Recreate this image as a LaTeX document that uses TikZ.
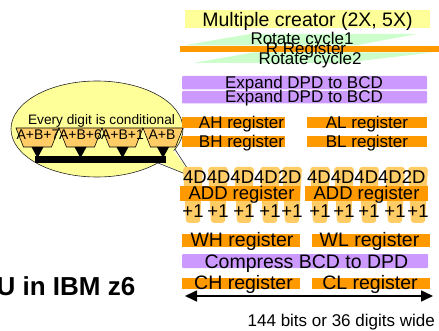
\documentclass[tikz,border=0pt]{standalone}
\usepackage{fontspec}
\setmainfont{Liberation Sans}
\usetikzlibrary{arrows.meta}
\definecolor{cyel}{HTML}{FFFF99}
\definecolor{cgrn}{HTML}{CCFFCC}
\definecolor{corg}{HTML}{FF9900}
\definecolor{cpur}{HTML}{CC99FF}
\definecolor{clor}{HTML}{FFCC66}
\begin{document}
\begin{tikzpicture}[x=1pt,y=-1pt,
  txt/.style={inner sep=0pt,anchor=base,font=\fontsize{17}{20}\selectfont},
  bigtxt/.style={inner sep=0pt,anchor=base,font=\fontsize{19.5}{23}\selectfont},
  midtxt/.style={inner sep=0pt,anchor=base,font=\fontsize{18.5}{22}\selectfont},
  smalltxt/.style={inner sep=0pt,anchor=base,font=\fontsize{13.7}{16}\selectfont},
  orbar/.style={fill=corg},
  pubar/.style={fill=cpur,rounded corners=1pt},
  trap/.style={fill=clor,draw=black,line width=0.6pt},
  dbl/.style={line width=1.6pt,{Triangle[length=12pt,width=11pt]}-{Triangle[length=12pt,width=11pt]}}]
\useasboundingbox (0,0) rectangle (439,331);
\clip (0,0) rectangle (439,331);
% top section
\fill[cyel] (185,10) rectangle (430,28.5);
\node[bigtxt] (mc) at (307.5,27) {Multiple creator (2X, 5X)};
\fill[cgrn] (183,45.5) -- (250,34) -- (417,34) -- (355,45.5) -- cycle;
\fill[cgrn] (193,63) -- (253,52.5) -- (432,52.5) -- (343,63) -- cycle;
\fill[orbar] (180,46) rectangle (439,52.5);
\node[txt] (rc1) at (302,45) {Rotate cycle1};
\node[txt] (rr) at (306,55) {R Register};
\node[txt] (rc2) at (310,65) {Rotate cycle2};
% expand
\fill[pubar] (182,76) rectangle (427,89.5);
\fill[pubar] (182,91) rectangle (427,103.5);
\node[txt] (ex1) at (304,88.5) {Expand DPD to BCD};
\node[txt] (ex2) at (304,102.3) {Expand DPD to BCD};
% callout
\fill[cyel] (168,146) -- (193,177) -- (152,158) -- cycle;
\filldraw[fill=cyel,draw=black!85,line width=0.6pt] (97,129) ellipse [x radius=86pt,y radius=48pt];
\fill[cyel] (170,146) -- (193,177) -- (154,160) -- cycle;
\draw[black!85,line width=0.6pt] (175,149.3) -- (193,177) -- (157.8,162.9);
\node[smalltxt] (every) at (101.5,125) {Every digit is conditional};
\foreach \l/\r/\t/\c in {16/59/A+B+7/38, 59/102/A+B+6/80.5, 102/143/A+B+1/122.5, 143/183/A+B/162} {
  \draw[trap] (\l,128) -- (\r,128) -- ({\r-7.5},147) -- ({\l+7.5},147) -- cycle;
  \fill[black] ({(\l+\r)/2-6},147) -- ({(\l+\r)/2+6},147) -- ({(\l+\r)/2},158) -- cycle;
  \node[inner sep=0pt,anchor=base,font=\fontsize{14}{16}\selectfont] at (\c,140) {\t};
}
\fill[black] (35,156) rectangle (166,163.3);
% A/B registers
\fill[orbar] (182,116.7) rectangle (285,128.3);
\fill[orbar] (307,116.7) rectangle (427,128.3);
\fill[orbar] (182,136) rectangle (285,147.3);
\fill[orbar] (307,136) rectangle (427,147.3);
\node[txt] (ah) at (241.5,128.3) {AH register};
\node[txt] (al) at (367,128.3) {AL register};
\node[txt] (bh) at (241.5,147.3) {BH register};
\node[txt] (bl) at (367,147.3) {BL register};
% adder section
\foreach \c in {193,218,244,270,292,320,344,369,395,418} {
  \fill[clor,rounded corners=3pt] ({\c-10},167) -- ({\c+10},167) -- ({\c+7},223) -- ({\c-7},223) -- cycle;
}
\fill[orbar] (180,186) rectangle (300,201);
\fill[orbar] (305,186) rectangle (428,201);
\node[midtxt,anchor=base west] (d1) at (183,184) {4D4D4D4D2D};
\node[midtxt,anchor=base west] (d2) at (307,184) {4D4D4D4D2D};
\node[midtxt] (add1) at (241.5,200) {ADD register};
\node[midtxt] (add2) at (366.5,200) {ADD register};
\foreach \c [count=\i] in {193,218,244,270,292,320,344,369,395,418} {
  \node[midtxt] (p\i) at (\c,218) {+1};
}
% bottom section
\fill[orbar] (182,234) rectangle (300,247);
\fill[orbar] (312,234) rectangle (430,247);
\node[bigtxt] (wh) at (242,247) {WH register};
\node[bigtxt] (wl) at (369.5,247) {WL register};
\fill[pubar] (182,254) rectangle (428,268);
\node[bigtxt] (cmp) at (306.5,268) {Compress BCD to DPD};
\fill[orbar] (182,278) rectangle (300,289);
\fill[orbar] (312,278) rectangle (430,289);
\node[bigtxt] (ch) at (243.5,289) {CH register};
\node[bigtxt] (cl) at (370,289) {CL register};
\coordinate (aleft) at (185,296);
\coordinate (aright) at (433,296);
\draw[dbl] (aleft) -- (aright);
\node[txt,anchor=base east] (wide) at (435,326.5) {144 bits or 36 digits wide};
\node[inner sep=0pt,anchor=base east,font=\fontsize{26}{30}\selectfont\bfseries] (title) at (135.5,295) {U in IBM z6};
\end{tikzpicture}
\end{document}
